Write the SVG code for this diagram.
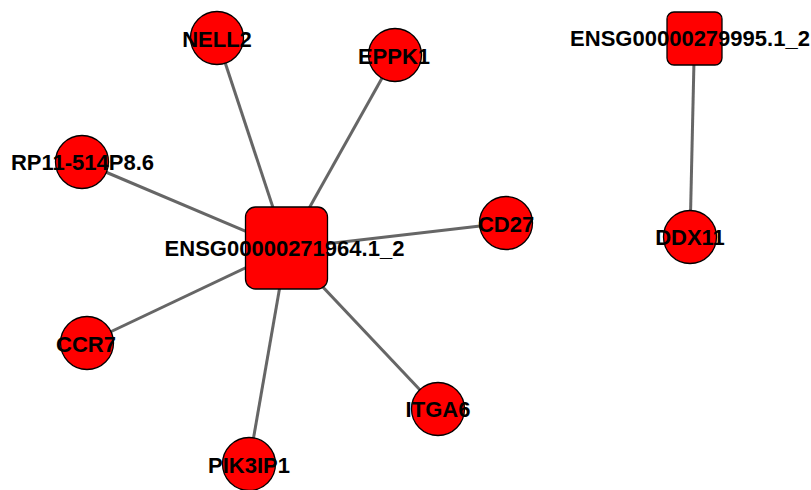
<svg xmlns="http://www.w3.org/2000/svg" width="811" height="490" viewBox="0 0 811 490">
  <style>
    .edge { stroke: #666666; stroke-width: 3; fill: none; }
    .node { fill: #ff0000; stroke: #000000; stroke-width: 1.3; }
    .label { font-family: "Liberation Sans", Arial, sans-serif; font-weight: bold; font-size: 22px; fill: #000000; text-anchor: middle; dominant-baseline: central; }
  </style>
  <rect width="811" height="490" fill="#ffffff"/>
  <g id="edges">
    <line class="edge" x1="286.5" y1="248.5" x2="217" y2="38"/>
    <line class="edge" x1="286.5" y1="248.5" x2="395" y2="55"/>
    <line class="edge" x1="286.5" y1="248.5" x2="82" y2="162"/>
    <line class="edge" x1="286.5" y1="248.5" x2="506" y2="223"/>
    <line class="edge" x1="286.5" y1="248.5" x2="87" y2="343"/>
    <line class="edge" x1="286.5" y1="248.5" x2="249" y2="464"/>
    <line class="edge" x1="286.5" y1="248.5" x2="438" y2="409"/>
    <line class="edge" x1="694.5" y1="38.5" x2="690" y2="237"/>
  </g>
  <g id="NELL2">
    <circle class="node" cx="217" cy="38" r="26.5"/>
    <text class="label" x="217" y="39">NELL2</text>
  </g>
  <g id="EPPK1">
    <circle class="node" cx="395" cy="55" r="26.5"/>
    <text class="label" x="394" y="56">EPPK1</text>
  </g>
  <g id="RP11-514P8.6">
    <circle class="node" cx="82" cy="162" r="26.5"/>
    <text class="label" x="82.5" y="162">RP11-514P8.6</text>
  </g>
  <g id="CD27">
    <circle class="node" cx="506" cy="223" r="26.5"/>
    <text class="label" x="506" y="224">CD27</text>
  </g>
  <g id="CCR7">
    <circle class="node" cx="87" cy="343" r="26.5"/>
    <text class="label" x="86" y="344">CCR7</text>
  </g>
  <g id="PIK3IP1">
    <circle class="node" cx="249" cy="464" r="26.5"/>
    <text class="label" x="249" y="465">PIK3IP1</text>
  </g>
  <g id="ITGA6">
    <circle class="node" cx="438" cy="409" r="26.5"/>
    <text class="label" x="438" y="409">ITGA6</text>
  </g>
  <g id="ENSG00000271964.1_2">
    <rect class="node" x="245.5" y="207" width="82" height="82" rx="10" ry="10"/>
    <text class="label" x="284.5" y="248">ENSG00000271964.1_2</text>
  </g>
  <g id="ENSG00000279995.1_2">
    <rect class="node" x="667" y="12" width="55" height="53" rx="7" ry="7"/>
    <text class="label" x="690" y="38">ENSG00000279995.1_2</text>
  </g>
  <g id="DDX11">
    <circle class="node" cx="690" cy="237" r="26.5"/>
    <text class="label" x="690" y="237">DDX11</text>
  </g>
</svg>
